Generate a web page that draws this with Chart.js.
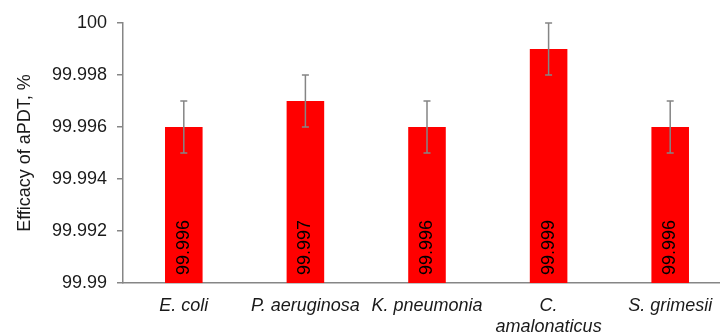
<!DOCTYPE html>
<html>
<head>
<meta charset="utf-8">
<script src="https://cdn.jsdelivr.net/npm/chart.js@4.4.1/dist/chart.umd.min.js"></script>
<style>
  html, body { margin: 0; padding: 0; background: #fff; overflow: hidden; width: 720px; height: 334px; }
  #wrap { position: relative; width: 731px; height: 334px; }
</style>
</head>
<body>
<div id="wrap"><canvas id="chart"></canvas></div>
<script>
// Bacterial strains and measured aPDT efficacy (%)
const categories = ['E. coli', 'P. aeruginosa', 'K. pneumonia', ['C.', 'amalonaticus'], 'S. grimesii'];
const efficacy = [99.996, 99.997, 99.996, 99.999, 99.996];
const errors = [0.001, 0.001, 0.001, 0.001, 0.001];
const yMin = 99.99;
const yMax = 100;
const yStep = 0.002;

const FONT = '"Liberation Sans", Arial, sans-serif';

// Error whiskers and rotated value labels inside each bar
const barExtras = {
  id: 'barExtras',
  afterDatasetsDraw(chart) {
    const { ctx, scales: { y } } = chart;
    const meta = chart.getDatasetMeta(0);
    meta.data.forEach((bar, i) => {
      const v = efficacy[i];
      const e = errors[i];
      const x = bar.x;
      const yTop = y.getPixelForValue(v + e);
      const yBot = y.getPixelForValue(v - e);
      ctx.save();
      ctx.strokeStyle = '#858585';
      ctx.lineWidth = 1.5;
      ctx.beginPath();
      ctx.moveTo(x, yTop); ctx.lineTo(x, yBot);
      ctx.moveTo(x - 3.5, yTop); ctx.lineTo(x + 3.5, yTop);
      ctx.moveTo(x - 3.5, yBot); ctx.lineTo(x + 3.5, yBot);
      ctx.stroke();
      ctx.restore();

      // value text runs bottom-to-top, starting just above the baseline
      ctx.save();
      ctx.translate(x, y.getPixelForValue(yMin) - 8);
      ctx.rotate(-Math.PI / 2);
      ctx.fillStyle = '#000';
      ctx.font = '18px ' + FONT;
      ctx.textAlign = 'left';
      ctx.textBaseline = 'middle';
      ctx.fillText(v.toFixed(3), 0, 0);
      ctx.restore();
    });
  }
};

new Chart(document.getElementById('chart'), {
  type: 'bar',
  data: {
    labels: categories,
    datasets: [{
      data: efficacy,
      backgroundColor: '#ff0000',
      borderWidth: 0,
      categoryPercentage: 1,
      barPercentage: 0.309
    }]
  },
  plugins: [barExtras],
  options: {
    responsive: true,
    maintainAspectRatio: false,
    animation: false,
    layout: { padding: { top: 23, left: 0, right: 0, bottom: 0 } },
    plugins: { legend: { display: false }, tooltip: { enabled: false } },
    scales: {
      x: {
        grid: { display: false },
        border: { display: true, color: '#868686', width: 1.5 },
        ticks: {
          color: '#1a1a1a',
          padding: 4,
          maxRotation: 0,
          autoSkip: false,
          font: { family: FONT, size: 18, style: 'italic', lineHeight: 1.2 }
        },
        afterFit(scale) { scale.height = 51; }
      },
      y: {
        min: yMin,
        max: yMax,
        grid: { drawOnChartArea: false, drawTicks: true, tickLength: 6, color: '#868686', lineWidth: 1.5 },
        border: { display: true, color: '#868686', width: 1.5 },
        ticks: {
          stepSize: yStep,
          color: '#1a1a1a',
          padding: 10,
          font: { family: FONT, size: 18 },
          callback: (v) => String(parseFloat(Number(v).toFixed(3)))
        },
        title: {
          display: true,
          text: 'Efficacy of aPDT, %',
          color: '#1a1a1a',
          font: { family: FONT, size: 18 },
          padding: { top: 14, bottom: 0 }
        },
        afterFit(scale) { scale.width = 123; }
      }
    }
  }
});
</script>
</body>
</html>
